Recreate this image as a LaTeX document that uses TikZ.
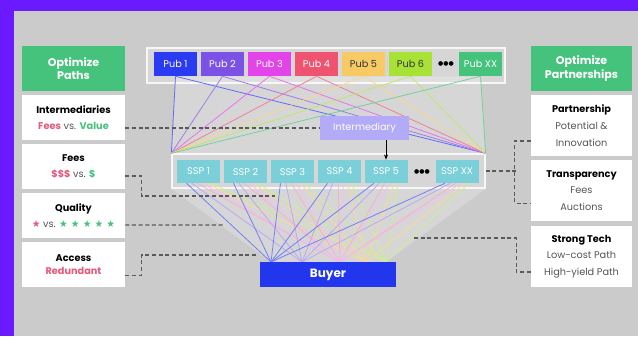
\documentclass[tikz,border=0pt]{standalone}
\usepackage{fontspec}
\setmainfont{Poppins}
\newfontfamily\symfont{DejaVu Sans}
\usetikzlibrary{arrows.meta}

\definecolor{bgpurple}{HTML}{6B1AFF}
\definecolor{panelgray}{HTML}{CBCBCB}
\definecolor{traygray}{HTML}{D6D6D6}
\definecolor{headgreen}{HTML}{45C27C}
\definecolor{pubblue}{HTML}{2B3BF2}
\definecolor{pubpurple}{HTML}{7C52E6}
\definecolor{pubmagenta}{HTML}{E244EA}
\definecolor{pubred}{HTML}{EE5470}
\definecolor{pubyellow}{HTML}{F8CA66}
\definecolor{publime}{HTML}{A8E236}
\definecolor{pubgreen}{HTML}{45C27C}
\definecolor{sspteal}{HTML}{7ACFD8}
\definecolor{interlav}{HTML}{B3AAF8}
\definecolor{buyerblue}{HTML}{2236EE}
\definecolor{txtpink}{HTML}{E8587A}
\definecolor{txtgray}{HTML}{555555}
\definecolor{dashgray}{HTML}{5A5A5A}

\begin{document}
\begin{tikzpicture}[x=0.75pt, y=-0.75pt,
    pub/.style={
        minimum width=32.25pt,
        minimum height=18pt,
        inner sep=0pt,
        text=white,
        font=\fontsize{7.3}{9}\selectfont
    },
    ssp/.style={
        pub,
        fill=sspteal,
        minimum height=17.25pt
    },
    tray/.style={
        fill=traygray,
        draw=white!80!traygray,
        line width=1pt,
        inner sep=0pt
    },
    side/.style={
        fill=white,
        minimum width=77.25pt,
        minimum height=33.75pt,
        inner sep=0pt,
        align=center,
        font=\fontsize{7.3}{12.5}\selectfont
    },
    head/.style={
        side,
        fill=headgreen,
        text=white,
        font=\bfseries\fontsize{8.3}{10}\selectfont
    },
    fan/.style={line width=0.6pt},
    link/.style={
        dashgray,
        dash pattern=on 3pt off 2pt,
        line width=0.8pt
    }
]

\useasboundingbox (0,0) rectangle (638,336);
\fill[bgpurple] (0,0) rectangle (638,336);
\fill[panelgray] (14,11) rectangle (638,336);

%%%%%%%%%%%%%%%%%%%%%%%%
% Publishers
%%%%%%%%%%%%%%%%%%%%%%%%

\node[tray, minimum width=268.5pt, minimum height=26.25pt] (pubtray) at (326,65.5) {};

\node[pub, fill=pubblue] (pub1) at (175.5,64) {Pub 1};
\node[pub, fill=pubpurple] (pub2) at (222.5,64) {Pub 2};
\node[pub, fill=pubmagenta] (pub3) at (269.5,64) {Pub 3};
\node[pub, fill=pubred] (pub4) at (316.5,64) {Pub 4};
\node[pub, fill=pubyellow, text=black!80] (pub5) at (363.5,64) {Pub 5};
\node[pub, fill=publime, text=black!80] (pub6) at (410.5,64) {Pub 6};
\node[font=\symfont\fontsize{4.5}{5}\selectfont] (pubdots) at (446,64) {●●●};
\node[pub, fill=pubgreen] (pubxx) at (480.5,64) {Pub XX};

%%%%%%%%%%%%%%%%%%%%%%%%
% SSPs
%%%%%%%%%%%%%%%%%%%%%%%%

\node[tray, minimum width=234.75pt, minimum height=25.5pt] (ssptray) at (328.5,171) {};

\node[ssp] (ssp1) at (198.5,171.5) {SSP 1};
\node[ssp] (ssp2) at (245.5,171.5) {SSP 2};
\node[ssp] (ssp3) at (292.5,171.5) {SSP 3};
\node[ssp] (ssp4) at (339.5,171.5) {SSP 4};
\node[ssp] (ssp5) at (386,171.5) {SSP 5};
\node[font=\symfont\fontsize{4.5}{5}\selectfont] (sspdots) at (422,171.5) {●●●};
\node[ssp] (sspxx) at (457,171.5) {SSP XX};

% points on top of buyer
\coordinate (buyA) at (271,262);
\coordinate (buyB) at (302,262);
\coordinate (buyC) at (340,262);
\coordinate (buyD) at (366,262);
\coordinate (buyE) at (386,262);

%%%%%%%%%%%%%%%%%%%%%%%%
% Lines pubs -> SSPs -> buyer
%%%%%%%%%%%%%%%%%%%%%%%%

\fill[white, opacity=.22] (pub1.south) -- (pubxx.south) -- (ssptray.north east) -- (ssptray.north west) -- cycle;
\fill[white, opacity=.22] (ssptray.south west) -- (ssptray.south east) -- (buyE) -- (buyA) -- cycle;

\foreach \p/\c in {pub1/pubblue, pub2/pubpurple, pub3/pubmagenta, pub4/pubred,
                   pub5/pubyellow, pub6/publime, pubxx/pubgreen} {
    \draw[fan, \c!75] (\p.south) -- (ssptray.north west);
    \draw[fan, \c!75] (\p.south) -- (ssptray.north east);
}

\foreach \s in {ssp1, ssp2, ssp3, ssp4, ssp5, sspxx} {
    \draw[fan, pubblue!65] ([xshift=-9pt]\s.south) -- (buyA);
    \draw[fan, pubpurple!50] ([xshift=-5pt]\s.south) -- (buyB);
    \draw[fan, pubred!45] ([xshift=-1pt]\s.south) -- (buyC);
    \draw[fan, pubmagenta!35] ([xshift=3pt]\s.south) -- (buyC);
    \draw[fan, pubyellow!70] ([xshift=6pt]\s.south) -- (buyD);
    \draw[fan, publime!55] ([xshift=9pt]\s.south) -- (buyE);
}

%%%%%%%%%%%%%%%%%%%%%%%%
% Intermediary and buyer
%%%%%%%%%%%%%%%%%%%%%%%%

\node[pub, fill=interlav, minimum width=66.75pt] (inter) at (364.5,128) {Intermediary};
\draw[-{Stealth[length=4pt]}, line width=0.7pt] (inter.south -| ssp5.north) -- (ssp5.north);

\node[pub, fill=buyerblue, minimum width=102pt, minimum height=18.75pt,
      font=\bfseries\fontsize{9}{10}\selectfont] (buyer) at (328,274.5) {Buyer};

%%%%%%%%%%%%%%%%%%%%%%%%
% Optimize paths (left)
%%%%%%%%%%%%%%%%%%%%%%%%

\node[head] (paths) at (73.5,68.5) {Optimize\\Paths};
\node[side] (interm) at (73.5,117.5)
    {{\bfseries Intermediaries}\\{\bfseries\color{txtpink}Fees} {\color{txtgray}vs.} {\bfseries\color{headgreen}Value}};
\node[side] (fees) at (73.5,166.5)
    {{\bfseries Fees}\\{\bfseries\color{txtpink}\$\$\$} {\color{txtgray}vs.} {\bfseries\color{headgreen}\$}};
\node[side] (quality) at (73.5,215.5)
    {{\bfseries Quality}\\{\symfont\color{txtpink}★} {\color{txtgray}vs.} {\symfont\color{headgreen}★ ★ ★ ★ ★}};
\node[side, font=\fontsize{7.3}{9.5}\selectfont] (access) at (73.5,264.5)
    {{\bfseries Access}\\{\bfseries\color{txtpink}Redundant}};

%%%%%%%%%%%%%%%%%%%%%%%%
% Optimize partnerships (right)
%%%%%%%%%%%%%%%%%%%%%%%%

\node[head, minimum width=75.75pt] (partners) at (581.5,68.5) {Optimize\\Partnerships};
\node[side, minimum width=75.75pt, minimum height=45.75pt] (partnership) at (581.5,125.5)
    {{\bfseries Partnership}\\{\color{txtgray}Potential \&}\\{\color{txtgray}Innovation}};
\node[side, minimum width=75.75pt, minimum height=45.75pt] (transp) at (581.5,190.5)
    {{\bfseries Transparency}\\{\color{txtgray}Fees}\\{\color{txtgray}Auctions}};
\node[side, minimum width=75.75pt, minimum height=45.75pt] (tech) at (581.5,256.5)
    {{\bfseries Strong Tech}\\{\color{txtgray}Low-cost Path}\\{\color{txtgray}High-yield Path}};

%%%%%%%%%%%%%%%%%%%%%%%%
% Dashed links
%%%%%%%%%%%%%%%%%%%%%%%%

\coordinate (feesend) at (275,196);
\coordinate (qualend) at (224,225);
\coordinate (accend) at (258,255);
\coordinate (techend) at (413,238);

\draw[link] (interm.east |- inter.west) -- (inter.west);
\draw[link] ([yshift=-7.1pt]fees.east) -- ++(12pt,0) |- (feesend);
\draw[link] ([yshift=-7.1pt]quality.east) -- (qualend);
\draw[link] ([yshift=-7.9pt]access.east) -- ++(12pt,0) |- (accend);

\draw[link] ([yshift=-11.6pt]partnership.west) -- ++(-12pt,0) |- ([yshift=-9.4pt]transp.west);
\draw[link] (ssptray.east) -- ++(22.5pt,0);
\draw[link] ([yshift=-11.6pt]tech.west) -- ++(-11pt,0) |- (techend);

\end{tikzpicture}
\end{document}
